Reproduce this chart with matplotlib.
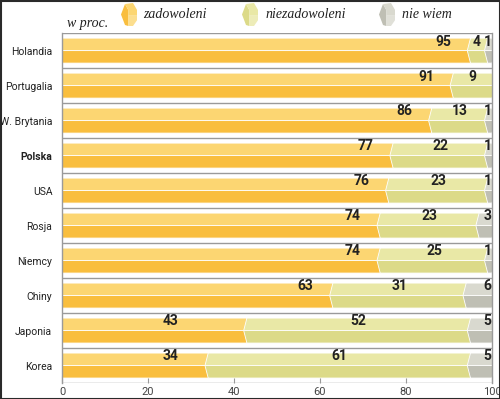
import matplotlib
matplotlib.use("Agg")
import matplotlib.pyplot as plt
from matplotlib.patches import Polygon, Rectangle

countries = ["Holandia", "Portugalia", "W. Brytania", "Polska", "USA",
             "Rosja", "Niemcy", "Chiny", "Japonia", "Korea"]
zadowoleni = [95, 91, 86, 77, 76, 74, 74, 63, 43, 34]
niezadowoleni = [4, 9, 13, 22, 23, 23, 25, 31, 52, 61]
nie_wiem = [1, 0, 1, 1, 1, 3, 1, 6, 5, 5]
series_names = ["zadowoleni", "niezadowoleni", "nie wiem"]
xticks = [0, 20, 40, 60, 80, 100]

# (top half, bottom half) colours per series
colors = [("#fcd672", "#f9be3e"), ("#e9e8a6", "#dcda88"), ("#d9d9cf", "#bfbfb4")]

fig = plt.figure(figsize=(5.0, 3.99), dpi=100)
ax = fig.add_axes([0.124, 0.040, 0.86, 0.877])
ax.set_xlim(0, 100)
ax.set_ylim(len(countries) - 0.5, -0.5)

# slot separators and side lines
for b in range(len(countries) + 1):
    ax.axhline(b - 0.5, color="#9a9a9a", lw=1.0, zorder=1)
for s in ["top", "bottom"]:
    ax.spines[s].set_visible(False)
for s in ["left", "right"]:
    ax.spines[s].set_color("#9a9a9a")
    ax.spines[s].set_linewidth(1.0)

h = 0.357   # half bar height in slot units
d = 0.75    # chevron depth in data units


def segment(s, e, yc, ctop, cbot):
    top = [(s - d, yc), (s, yc - h), (e, yc - h), (e + d, yc)]
    bot = [(s - d, yc), (e + d, yc), (e, yc + h), (s, yc + h)]
    ax.add_patch(Polygon(top, closed=True, fc=ctop, ec="white", lw=0.6, zorder=2))
    ax.add_patch(Polygon(bot, closed=True, fc=cbot, ec="white", lw=0.6, zorder=2))


lab_kw = dict(va="center", fontsize=10, fontweight="bold", family="Roboto",
              color="#222222", zorder=5)

for i, name in enumerate(countries):
    vals = [zadowoleni[i], niezadowoleni[i], nie_wiem[i]]
    start = 0
    for k, v in enumerate(vals):
        if v > 0:
            segment(start, start + v, i, *colors[k])
        start += v

    ly = i - 0.26
    z = zadowoleni[i]
    # narrow bars: label sits in a fixed column
    if z > 50:
        ax.text(z - 4.5, ly, str(z), ha="right", **lab_kw)
    else:
        ax.text(25.3, ly, str(z), ha="center", **lab_kw)
    n = niezadowoleni[i]
    nx = z + n / 2
    if n < 6:
        nx = z + n / 2 - 0.6
    ax.text(nx, ly, str(n), ha="center", **lab_kw)
    if nie_wiem[i] > 0:
        ax.text(99.0, ly, str(nie_wiem[i]), ha="center", **lab_kw)

ax.set_yticks(range(len(countries)))
ax.set_yticklabels(countries, family="Roboto", fontsize=7.5, color="#222222")
for lab in ax.get_yticklabels():
    if lab.get_text() == "Polska":
        lab.set_fontweight("bold")
ax.tick_params(axis="y", length=0, pad=7)
ax.set_xticks(xticks)
ax.set_xticklabels([str(t) for t in xticks], family="Roboto", fontsize=8, color="#444444")
ax.tick_params(axis="x", direction="in", length=5, color="#9a9a9a", pad=3)

# overlay for legend, caption and frame (pixel coords)
ov = fig.add_axes([0, 0, 1, 1], zorder=10)
ov.set_xlim(0, 500)
ov.set_ylim(399, 0)
ov.axis("off")


def icon(x0, y0, w, hh, ctop, cbot):
    xm = x0 + w * 0.45
    left = [(x0, y0 + hh / 2), (x0 + w * 0.25, y0 + 1), (xm, y0 + hh * 0.3),
            (xm, y0 + hh), (x0 + w * 0.25, y0 + hh - 1)]
    rtop = [(x0 + w * 0.25, y0 + 1), (x0 + w * 0.75, y0), (x0 + w, y0 + hh * 0.3),
            (x0 + w, y0 + hh * 0.55), (xm, y0 + hh * 0.55), (xm, y0 + hh * 0.3)]
    rbot = [(xm, y0 + hh * 0.55), (x0 + w, y0 + hh * 0.55), (x0 + w, y0 + hh * 0.75),
            (x0 + w * 0.75, y0 + hh), (xm, y0 + hh)]
    ov.add_patch(Polygon(left, closed=True, fc=cbot, ec="none"))
    ov.add_patch(Polygon(rtop, closed=True, fc=ctop, ec="none"))
    ov.add_patch(Polygon(rbot, closed=True, fc=ctop, ec="none", alpha=0.8))


legend_x = [(121, 143), (242, 265), (379, 402)]
for (ix, tx), name, c in zip(legend_x, series_names, colors):
    icon(ix, 3, 16, 23, c[0], c[1])
    ov.text(tx, 15, name, ha="left", va="center", fontsize=10, style="italic",
            family="Liberation Serif", color="#222222")
ov.text(67, 24, "w proc.", ha="left", va="center", fontsize=10, style="italic",
        family="Liberation Serif", color="#222222")
ov.add_patch(Rectangle((0.5, 0.5), 499, 398, fill=False, ec="#2a2a2a", lw=1.5))

fig.savefig("out.png", dpi=100)
